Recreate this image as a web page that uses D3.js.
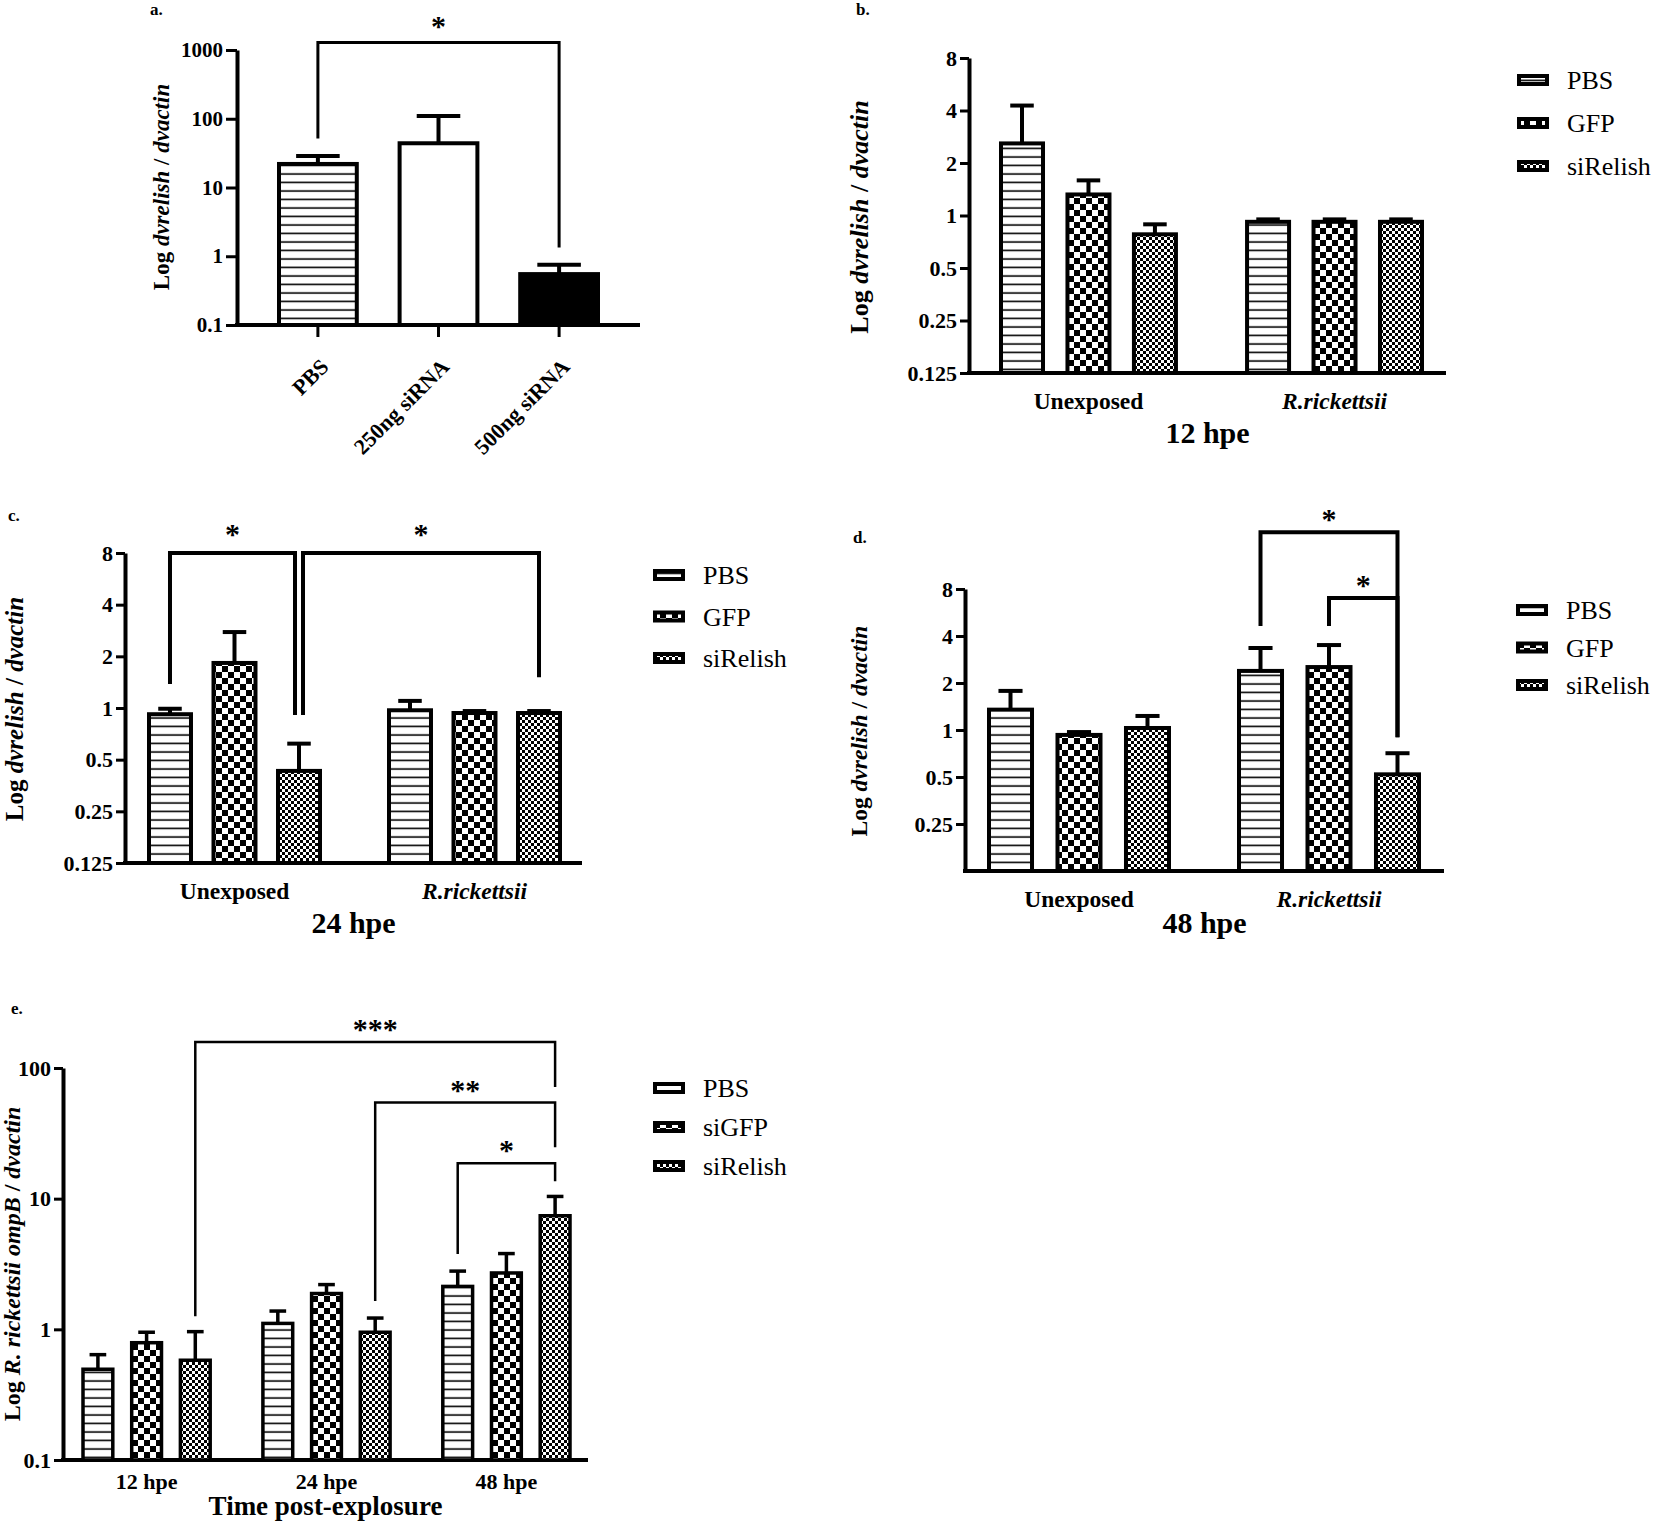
<!DOCTYPE html>
<html>
<head>
<meta charset="utf-8">
<script src="https://cdn.jsdelivr.net/npm/d3@7"></script>
<style>
body { margin: 0; background: #fff; }
svg { display: block; font-family: "Liberation Serif", "Times New Roman", serif; }
</style>
</head>
<body>
<svg id="fig" width="1654" height="1524"></svg>
<script>
// ---- data ----
var aCategories = ['PBS', '250ng siRNA', '500ng siRNA'];
var aMeans = [22, 44, 0.55];
var aUpper = [28.7, 110, 0.75];
var aTicks = [0.1, 1, 10, 100, 1000];

var groups = ['Unexposed', 'R.rickettsii'];
var treatments = ['PBS', 'GFP', 'siRelish'];
var foldTicks = [0.125, 0.25, 0.5, 1, 2, 4, 8];
var foldTicksD = [0.25, 0.5, 1, 2, 4, 8];

var b12Means = [2.59, 1.32, 0.78, 0.92, 0.92, 0.92];
var b12Upper = [4.27, 1.59, 0.89, 0.95, 0.95, 0.95];
var c24Means = [0.92, 1.83, 0.43, 0.97, 0.935, 0.935];
var c24Upper = [0.99, 2.77, 0.62, 1.10, 0.96, 0.96];
var d48Means = [1.35, 0.93, 1.03, 2.39, 2.53, 0.52];
var d48Upper = [1.78, 0.97, 1.23, 3.35, 3.5, 0.71];

var timepoints = ['12 hpe', '24 hpe', '48 hpe'];
var eTreatments = ['PBS', 'siGFP', 'siRelish'];
var eMeans = [0.495, 0.79, 0.58, 1.11, 1.88, 0.95, 2.13, 2.7, 7.4];
var eUpper = [0.64, 0.95, 0.96, 1.38, 2.2, 1.22, 2.79, 3.8, 10.4];
var eTicks = [0.1, 1, 10, 100];

// significance brackets: bar index from/to, bracket top and leg ends in data units
var aBrackets = [{from: 0, to: 2, top: 1283, fromEnd: 51.5, toEnd: 1.34, label: '*'}];
var cBrackets = [
    {from: 0, to: 2, top: 8, fromEnd: 1.38, toEnd: 0.91, label: '*'},
    {from: 2, to: 5, top: 8, fromEnd: 0.91, toEnd: 1.51, label: '*'}
];
var dBrackets = [
    {from: 3, to: 5, top: 18.5, fromEnd: 4.64, toEnd: 0.90, label: '*'},
    {from: 4, to: 5, top: 7.0, fromEnd: 4.64, toEnd: 0.90, label: '*'}
];
var eBrackets = [
    {from: 2, to: 8, top: 158, fromEnd: 1.26, toEnd: 71.4, label: '***'},
    {from: 5, to: 8, top: 54.4, fromEnd: 1.65, toEnd: 24.8, label: '**'},
    {from: 6, to: 8, top: 18.7, fromEnd: 3.77, toEnd: 13.6, label: '*'}
];

var svg = d3.select('#fig');
var fills = ['url(#hl)', 'url(#ck)', 'url(#fck)'];

// ---- patterns ----
var defs = svg.append('defs');
var hl = defs.append('pattern').attr('id', 'hl').attr('patternUnits', 'userSpaceOnUse')
        .attr('width', 10).attr('height', 8.5);
hl.append('rect').attr('width', 10).attr('height', 8.5).attr('fill', 'white');
hl.append('line').attr('x1', 0).attr('x2', 10).attr('y1', 4).attr('y2', 4)
        .attr('stroke', 'black').attr('stroke-width', 1.6);

var ck = defs.append('pattern').attr('id', 'ck').attr('patternUnits', 'userSpaceOnUse')
        .attr('width', 12).attr('height', 12);
ck.append('rect').attr('width', 12).attr('height', 12).attr('fill', 'white');
ck.append('rect').attr('width', 6).attr('height', 6).attr('fill', 'black');
ck.append('rect').attr('x', 6).attr('y', 6).attr('width', 6).attr('height', 6).attr('fill', 'black');

var fck = defs.append('pattern').attr('id', 'fck').attr('patternUnits', 'userSpaceOnUse')
        .attr('width', 6).attr('height', 6);
fck.append('rect').attr('width', 6).attr('height', 6).attr('fill', 'white');
fck.append('rect').attr('width', 3).attr('height', 3).attr('fill', 'black');
fck.append('rect').attr('x', 3).attr('y', 3).attr('width', 3).attr('height', 3).attr('fill', 'black');

// ---- helpers ----
function yAxis(g, y, x, ticks, size, tl) {
    var ax = g.append('g').attr('transform', 'translate(' + x + ',0)')
            .call(d3.axisLeft(y).tickValues(ticks).tickFormat(d3.format('')).tickSize(tl).tickSizeOuter(0).tickPadding(3));
    ax.attr('font-family', null).attr('font-size', null);
    ax.select('.domain').attr('stroke-width', 4);
    ax.selectAll('.tick line').attr('stroke-width', 3);
    ax.selectAll('.tick text').attr('font-size', size).attr('font-weight', 'bold').attr('fill', 'black');
}

function yLabel(g, cx, cy, size, parts) {
    var t = g.append('text')
            .attr('transform', 'translate(' + cx + ',' + cy + ') rotate(-90)')
            .attr('text-anchor', 'middle').attr('dominant-baseline', 'central')
            .attr('font-size', size).attr('font-weight', 'bold');
    parts.forEach(function (p) {
        t.append('tspan').attr('font-style', p[1] ? 'italic' : 'normal').text(p[0]);
    });
}

function panelLabel(x, y, txt) {
    svg.append('text').attr('x', x).attr('y', y).attr('font-size', 17)
            .attr('font-weight', 'bold').text(txt);
}

function drawBrackets(g, list, xs, y, sw, starOff) {
    list.forEach(function (b, k) {
        var fx = xs[b.from], tx = xs[b.to];
        // legs that share a bar with another bracket are nudged apart
        list.forEach(function (o, j) {
            if (j !== k && o.from === b.to && o.top === b.top) { tx -= 4; }
            if (j !== k && o.to === b.from && o.top === b.top) { fx += 4; }
        });
        g.append('path')
                .attr('d', 'M' + fx + ',' + y(b.fromEnd) + 'V' + y(b.top) + 'H' + tx + 'V' + y(b.toEnd))
                .attr('fill', 'none').attr('stroke', 'black').attr('stroke-width', sw);
        g.append('text').attr('x', (fx + tx) / 2).attr('y', y(b.top) - starOff + 15)
                .attr('text-anchor', 'middle').attr('font-size', 30).attr('font-weight', 'bold')
                .text(b.label);
    });
}

function legend(g, x, y0, dy, labels) {
    labels.forEach(function (l, i) {
        var yy = y0 + i * dy;
        g.append('rect').attr('x', x).attr('y', yy - 4).attr('width', 28).attr('height', 8)
                .attr('fill', fills[i]).attr('stroke', 'black').attr('stroke-width', 4);
        g.append('text').attr('x', x + 48).attr('y', yy + 9).attr('font-size', 26).text(l);
    });
}

function groupedPanel(o) {
    var g = svg.append('g');
    var y = d3.scaleLog().base(o.base).domain(o.domain).range(o.yRange);
    var bottom = o.yRange[0];
    var outer = d3.scaleBand().domain(o.groups).range(o.groupRange).paddingInner(o.groupPad);
    var inner = d3.scaleBand().domain(o.treatments).range([0, outer.bandwidth()]).paddingInner(o.barPad);
    var bw = inner.bandwidth();

    var bars = o.means.map(function (m, i) {
        var gi = o.groups[Math.floor(i / o.treatments.length)];
        var ti = o.treatments[i % o.treatments.length];
        return {x: outer(gi) + inner(ti), mean: m, upper: o.upper[i], k: i % o.treatments.length};
    });
    var centers = bars.map(function (b) { return b.x + bw / 2; });

    yAxis(g, y, o.axisX, o.ticks, 22, 9);
    g.append('line').attr('x1', o.axisX - 2).attr('x2', o.axisEnd).attr('y1', bottom).attr('y2', bottom)
            .attr('stroke', 'black').attr('stroke-width', 4);

    // error bars (upper only)
    bars.forEach(function (b, i) {
        g.append('line').attr('x1', centers[i]).attr('x2', centers[i])
                .attr('y1', y(b.mean)).attr('y2', y(b.upper))
                .attr('stroke', 'black').attr('stroke-width', o.sw);
        g.append('line').attr('x1', centers[i] - bw * 0.28).attr('x2', centers[i] + bw * 0.28)
                .attr('y1', y(b.upper)).attr('y2', y(b.upper))
                .attr('stroke', 'black').attr('stroke-width', o.sw);
    });

    g.selectAll('rect.bar').data(bars).enter().append('rect').attr('class', 'bar')
            .attr('x', function (d) { return d.x; })
            .attr('y', function (d) { return y(d.mean); })
            .attr('width', bw)
            .attr('height', function (d) { return bottom - y(d.mean); })
            .attr('fill', function (d) { return fills[d.k]; })
            .attr('stroke', 'black').attr('stroke-width', o.sw);

    var xa = g.append('g').attr('transform', 'translate(0,' + bottom + ')')
            .call(d3.axisBottom(outer).tickSize(0).tickPadding(o.catPad));
    xa.attr('font-family', null).attr('font-size', null);
    xa.select('.domain').remove();
    xa.selectAll('.tick text').attr('font-size', o.catSize).attr('font-weight', 'bold').attr('fill', 'black')
            .attr('font-style', function (d) { return d === 'R.rickettsii' ? 'italic' : 'normal'; });

    g.append('text').attr('x', (o.axisX + o.axisEnd) / 2).attr('y', o.titleY)
            .attr('text-anchor', 'middle').attr('font-size', o.titleSize).attr('font-weight', 'bold')
            .text(o.title);

    yLabel(g, o.ylabX, o.ylabY, o.ylabSize, o.ylab);
    legend(g, o.legX, o.legY, o.legDy, o.legLabels);
    drawBrackets(g, o.brackets, centers, y, o.bracketW, o.starOff);
}

// ---- panel a ----
(function () {
    var g = svg.append('g');
    var y = d3.scaleLog().domain([0.1, 1000]).range([325, 50]);
    var x = d3.scaleBand().domain(aCategories).range([279, 598]).paddingInner(0.355);
    var bw = x.bandwidth();
    var aFills = ['url(#hl)', 'white', 'black'];
    var centers = aCategories.map(function (c) { return x(c) + bw / 2; });

    yAxis(g, y, 237, aTicks, 21, 11);
    g.append('line').attr('x1', 235).attr('x2', 640).attr('y1', 325).attr('y2', 325)
            .attr('stroke', 'black').attr('stroke-width', 4);

    aCategories.forEach(function (c, i) {
        g.append('line').attr('x1', centers[i]).attr('x2', centers[i])
                .attr('y1', y(aMeans[i])).attr('y2', y(aUpper[i]))
                .attr('stroke', 'black').attr('stroke-width', 4);
        g.append('line').attr('x1', centers[i] - bw * 0.28).attr('x2', centers[i] + bw * 0.28)
                .attr('y1', y(aUpper[i])).attr('y2', y(aUpper[i]))
                .attr('stroke', 'black').attr('stroke-width', 4);
        g.append('rect').attr('x', x(c)).attr('y', y(aMeans[i])).attr('width', bw)
                .attr('height', 325 - y(aMeans[i])).attr('fill', aFills[i])
                .attr('stroke', 'black').attr('stroke-width', 4);
    });

    var xa = g.append('g').attr('transform', 'translate(0,325)')
            .call(d3.axisBottom(x).tickSize(12));
    xa.attr('font-family', null).attr('font-size', null);
    xa.select('.domain').remove();
    xa.selectAll('.tick line').attr('stroke-width', 3);
    xa.selectAll('.tick text').attr('font-size', 22).attr('font-weight', 'bold').attr('fill', 'black')
            .attr('x', 0).attr('y', 0).attr('dy', null).attr('text-anchor', 'end')
            .attr('transform', 'translate(12,43) rotate(-45)');

    yLabel(g, 161, 187, 23, [['Log ', false], ['dvrelish', true], [' / ', false], ['dvactin', true]]);
    drawBrackets(g, aBrackets, centers, y, 3, 21.5);
})();

var relishLab = [['Log ', false], ['dvrelish', true], [' / ', false], ['dvactin', true]];

// ---- panel b ----
groupedPanel({
    base: 2, domain: [0.125, 8], yRange: [373, 58], ticks: foldTicks,
    axisX: 969, axisEnd: 1446, groupRange: [1001, 1422], groupPad: 0.289, barPad: 0.368,
    groups: groups, treatments: treatments, means: b12Means, upper: b12Upper, sw: 4,
    catPad: 19, catSize: 23.5, title: '12 hpe', titleY: 443, titleSize: 30,
    ylabX: 859, ylabY: 217, ylabSize: 26, ylab: relishLab,
    legX: 1519, legY: 80, legDy: 43, legLabels: treatments,
    brackets: [], bracketW: 4, starOff: 18
});

// ---- panel c ----
groupedPanel({
    base: 2, domain: [0.125, 8], yRange: [863, 553], ticks: foldTicks,
    axisX: 125, axisEnd: 582, groupRange: [149, 560], groupPad: 0.2875, barPad: 0.349,
    groups: groups, treatments: treatments, means: c24Means, upper: c24Upper, sw: 4,
    catPad: 19, catSize: 23.5, title: '24 hpe', titleY: 933, titleSize: 30,
    ylabX: 14, ylabY: 709, ylabSize: 25, ylab: relishLab,
    legX: 655, legY: 575, legDy: 41.5, legLabels: treatments,
    brackets: cBrackets, bracketW: 4, starOff: 24
});

// ---- panel d ----
groupedPanel({
    base: 2, domain: [0.125, 8], yRange: [871, 589], ticks: foldTicksD,
    axisX: 965, axisEnd: 1444, groupRange: [989, 1419], groupPad: 0.28, barPad: 0.372,
    groups: groups, treatments: treatments, means: d48Means, upper: d48Upper, sw: 4,
    catPad: 19, catSize: 23.5, title: '48 hpe', titleY: 933, titleSize: 30,
    ylabX: 859, ylabY: 731, ylabSize: 23.5, ylab: relishLab,
    legX: 1518, legY: 610, legDy: 37.5, legLabels: treatments,
    brackets: dBrackets, bracketW: 4, starOff: 18
});

// ---- panel e ----
groupedPanel({
    base: 10, domain: [0.1, 100], yRange: [1460, 1068], ticks: eTicks,
    axisX: 63, axisEnd: 588, groupRange: [83, 570], groupPad: 0.293, barPad: 0.388,
    groups: timepoints, treatments: eTreatments, means: eMeans, upper: eUpper, sw: 3.5,
    catPad: 13, catSize: 22, title: 'Time post-explosure', titleY: 1515, titleSize: 27,
    ylabX: 12, ylabY: 1264, ylabSize: 24,
    ylab: [['Log ', false], ['R. rickettsii ompB', true], ['  / ', false], ['dvactin', true]],
    legX: 655, legY: 1088, legDy: 39, legLabels: eTreatments,
    brackets: eBrackets, bracketW: 2.5, starOff: 18
});

panelLabel(150, 15, 'a.');
panelLabel(856, 15, 'b.');
panelLabel(8, 521, 'c.');
panelLabel(853, 543, 'd.');
panelLabel(11, 1014, 'e.');
</script>
</body>
</html>
